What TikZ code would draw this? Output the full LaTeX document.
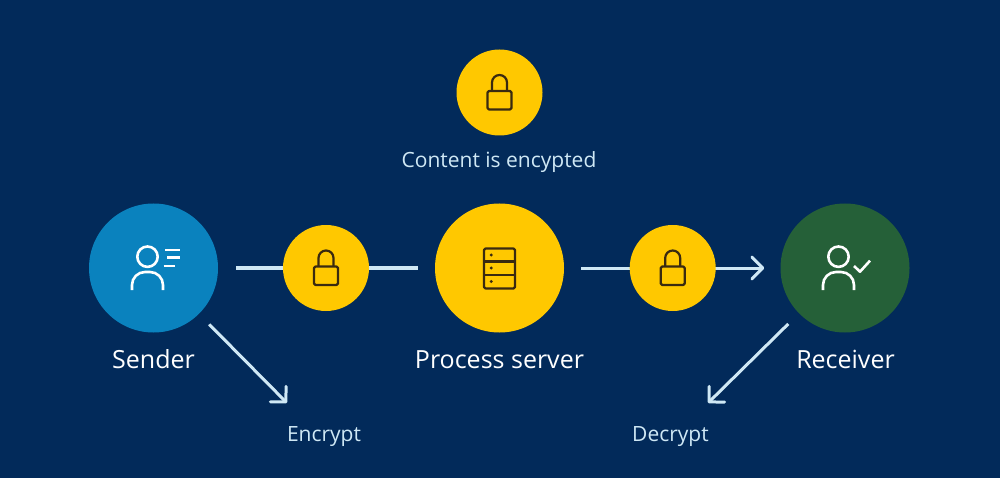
\documentclass[tikz,border=0pt]{standalone}
\usepackage{fontspec}
\setmainfont{Open Sans}
\usetikzlibrary{arrows.meta}
\pgfdeclarelayer{backdrop}
\pgfdeclarelayer{conn}
\pgfsetlayers{backdrop,conn,main}
\definecolor{bgnavy}{HTML}{022A5A}
\definecolor{ykey}{HTML}{FFC800}
\definecolor{bluekey}{HTML}{0A82BE}
\definecolor{greenkey}{HTML}{256038}
\definecolor{linkblue}{HTML}{CFE8F5}
\definecolor{icondark}{HTML}{3A2A10}
\tikzset{
  bigdisc/.style={circle,fill=#1,minimum size=129pt,inner sep=0pt},
  lockdisc/.style={circle,fill=ykey,minimum size=86pt,inner sep=0pt},
  mainlabel/.style={text=white,font=\fontsize{25}{29}\selectfont,anchor=base},
  sublabel/.style={text=linkblue,font=\fontsize{21}{25}\selectfont,anchor=base},
  link/.style={draw=linkblue,line width=#1},
  openhead/.style={-{Straight Barb[length=11pt,width=22pt,line width=3pt,round]}},
  darkicon/.style={draw=icondark,line width=2.2pt,line join=round},
  whiteicon/.style={draw=white,line width=2.6pt,line join=round},
  lockicon/.pic={
    \draw[darkicon,rounded corners=1.5pt] (-12,-1.5) rectangle (12,17);
    \draw[darkicon] (-7.5,-1.5) -- (-7.5,-10) arc[start angle=180,end angle=360,radius=7.5] -- (7.5,-1.5);
  },
  personicon/.pic={
    \draw[whiteicon] (0,-11.3) circle[radius=10.2];
    \draw[whiteicon] (-15.5,22) -- (-15.5,17) arc[start angle=180,end angle=270,radius=13] -- (2.5,4) arc[start angle=270,end angle=360,radius=13] -- (15.5,22);
  }
}
\begin{document}
\begin{tikzpicture}[x=1pt,y=-1pt]
\begin{pgfonlayer}{backdrop}
\fill[bgnavy] (0,0) rectangle (1000,478);
\end{pgfonlayer}
\useasboundingbox (0,0) rectangle (1000,478);
\node[lockdisc] (toplock) at (499.5,92.5) {};
\node[bigdisc=bluekey] (sender) at (153.5,268) {};
\node[lockdisc] (lockone) at (326,268) {};
\node[bigdisc=ykey] (server) at (499.5,268) {};
\node[lockdisc] (locktwo) at (672.7,268) {};
\node[bigdisc=greenkey] (receiver) at (845,268) {};
\coordinate (enctip) at (287,403);
\coordinate (dectip) at (708,403);
\node[sublabel] (content) at (499,167.5) {Content is encypted};
\node[mainlabel] (senderlabel) at (153.5,368) {Sender};
\node[mainlabel] (serverlabel) at (499.5,368) {Process server};
\node[mainlabel] (receiverlabel) at (845.5,368) {Receiver};
\node[sublabel] (encrypt) at (324,441) {Encrypt};
\node[sublabel] (decrypt) at (670.5,441) {Decrypt};
\begin{pgfonlayer}{conn}
\draw[link=4.5pt,shorten <=18pt,shorten >=17pt] (sender) -- (server);
\draw[link=3pt,openhead,shorten <=17pt,shorten >=16pt] (server) -- (receiver);
\draw[link=3pt,openhead,shorten <=14.5pt] (sender) -- (enctip);
\draw[link=3pt,openhead,shorten <=15pt] (receiver) -- (dectip);
\end{pgfonlayer}
\pic at (lockone) {lockicon};
\pic at (locktwo) {lockicon};
\pic at (toplock) {lockicon};
% sender icon
\pic at (147.5,268) {personicon};
\draw[whiteicon] (165,250) -- (179.5,250) (167,257.5) -- (179.5,257.5) (163.5,266) -- (175,266);
% server icon
\draw[darkicon,rounded corners=1.5pt] (484,248.5) rectangle (515,288.5);
\draw[darkicon] (484,261.5) -- (515,261.5) (484,274.8) -- (515,274.8);
\fill[icondark] (491.3,255) circle[radius=1.6] (491.3,268) circle[radius=1.6] (491.3,281.5) circle[radius=1.6];
% receiver icon
\pic at (838.5,268) {personicon};
\draw[whiteicon] (854,266) -- (860,271.7) -- (870,260.7);
\end{tikzpicture}
\end{document}
